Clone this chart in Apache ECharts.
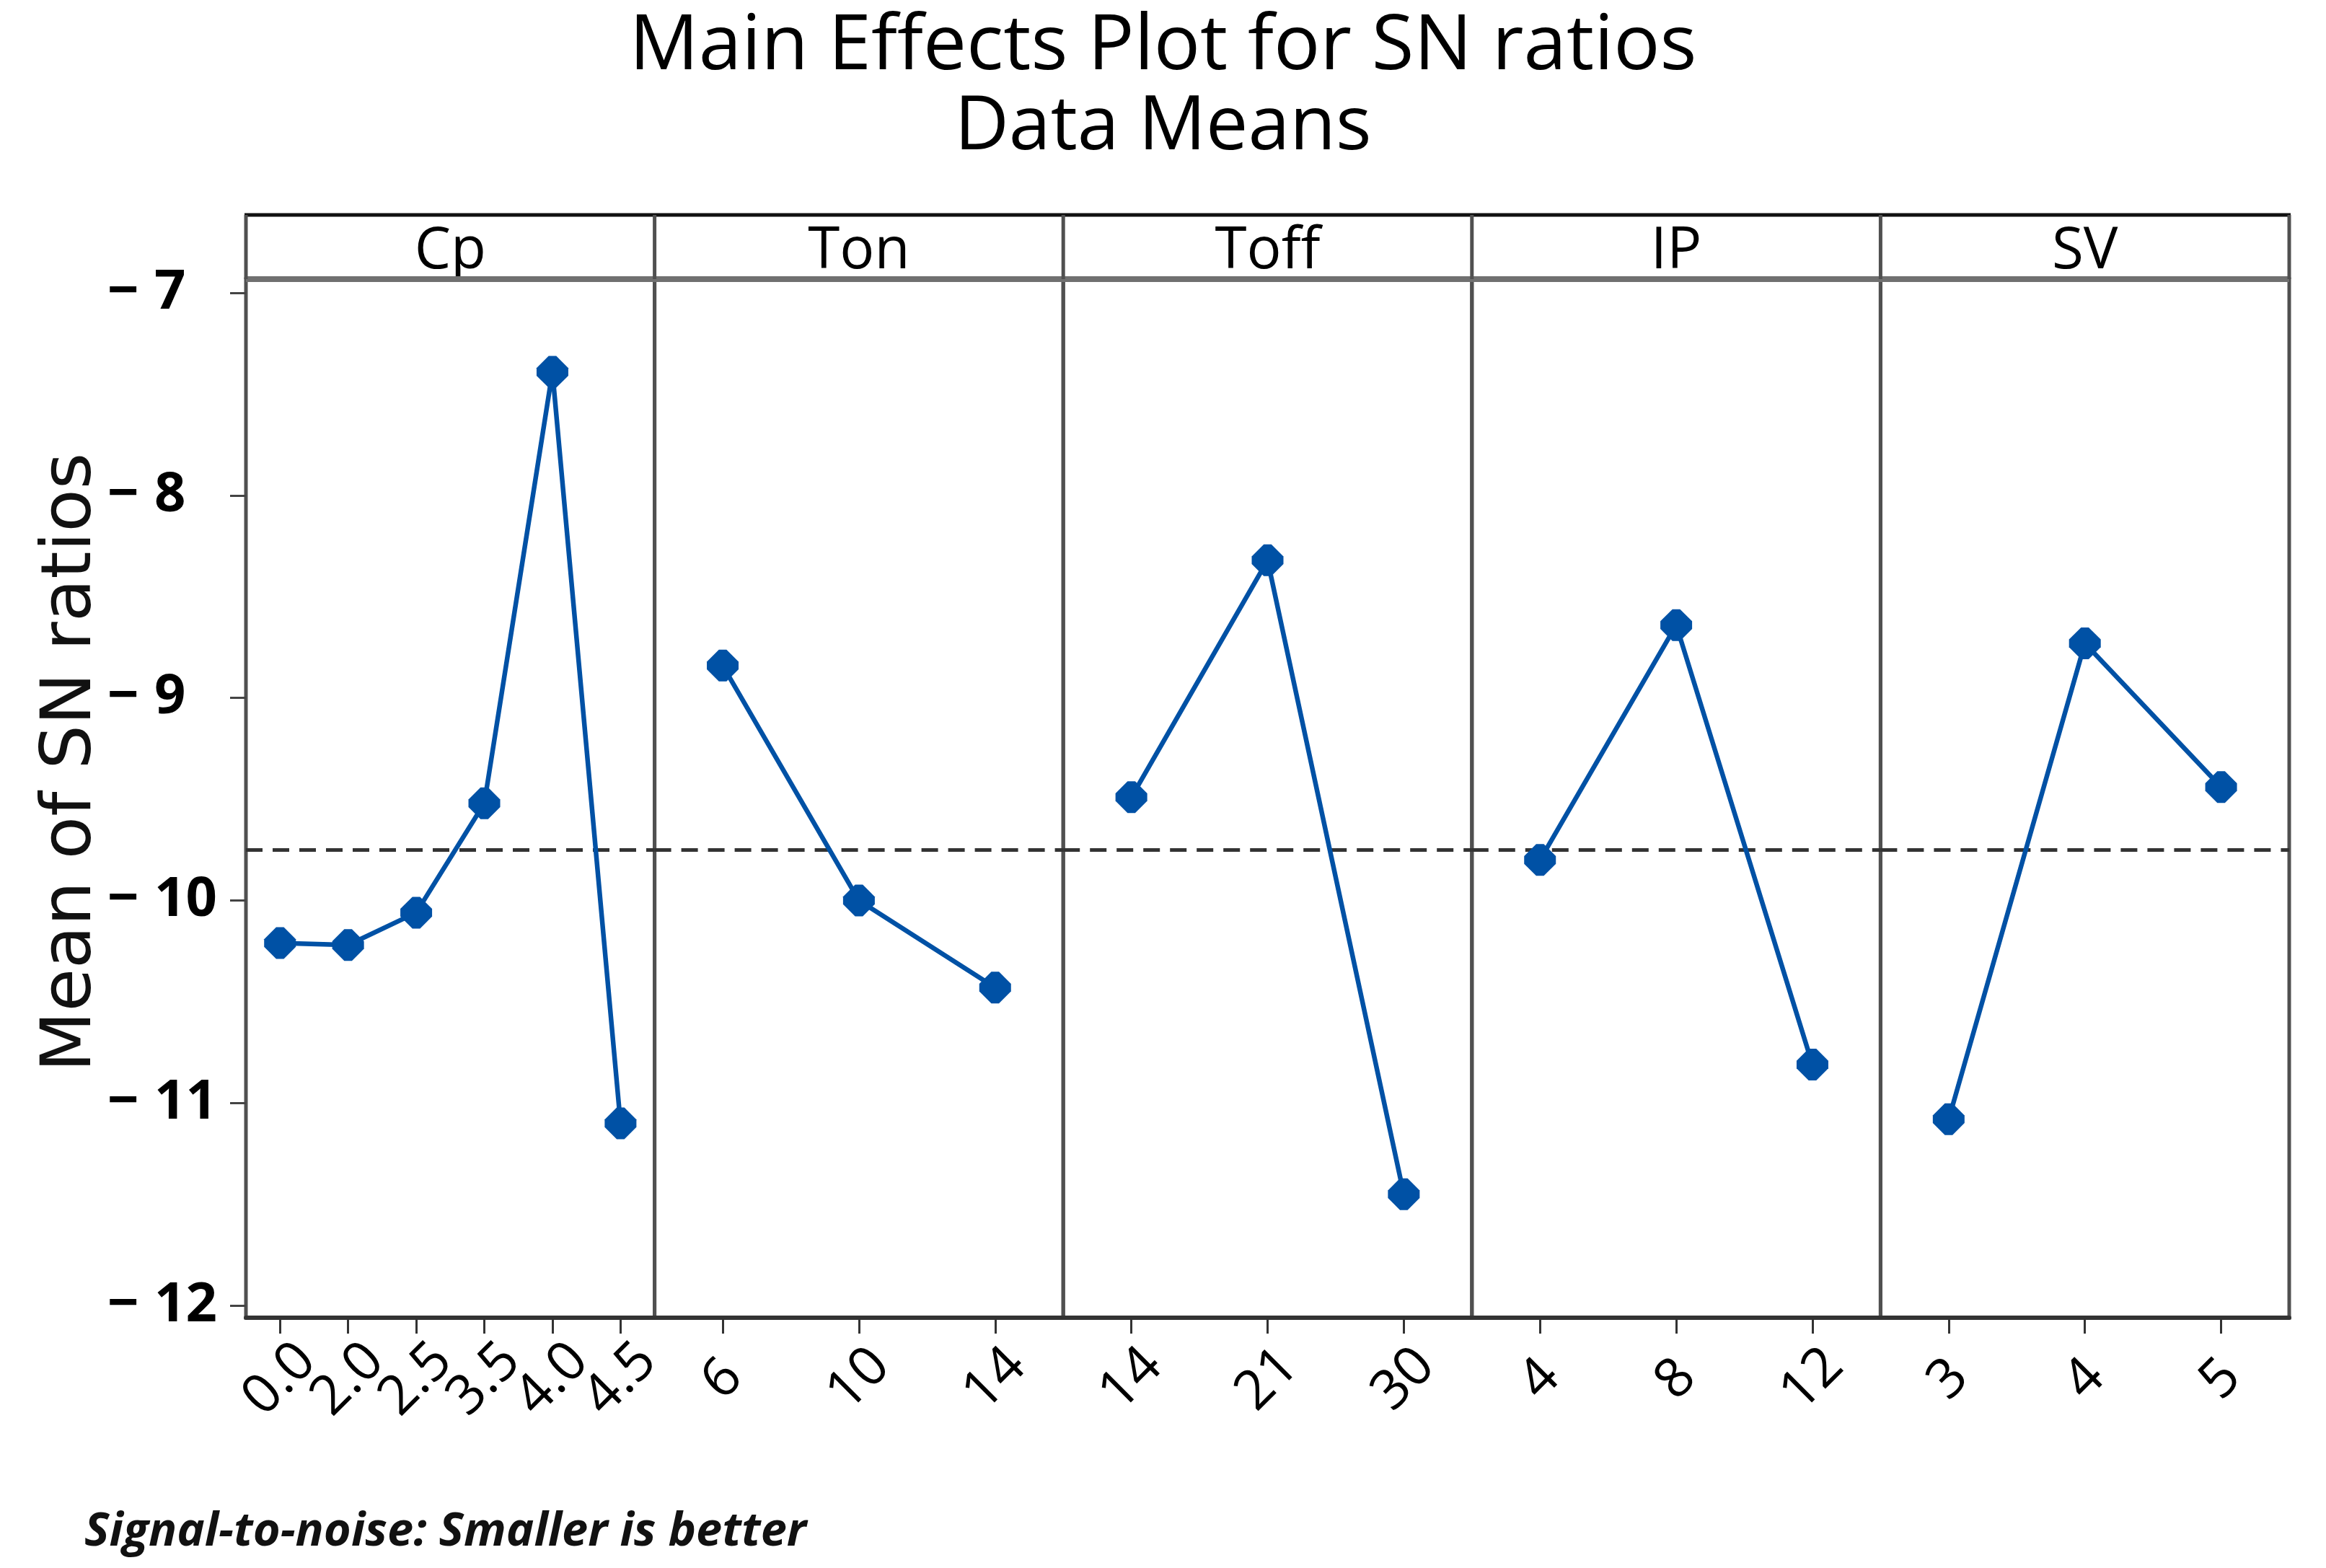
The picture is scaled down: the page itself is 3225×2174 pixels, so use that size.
<!DOCTYPE html>
<html>
<head>
<meta charset="utf-8">
<title>Main Effects Plot for SN ratios</title>
<script src="https://cdn.jsdelivr.net/npm/echarts@6/dist/echarts.min.js"></script>
<style>
  html, body { margin: 0; padding: 0; background: #fff; }
  #chart { width: 3225px; height: 2174px; }
</style>
</head>
<body>
<div id="chart"></div>
<script>
// ---- data ----
const factorNames = ['Cp', 'Ton', 'Toff', 'IP', 'SV'];
const cpLevels = ['0.0', '2.0', '2.5', '3.5', '4.0', '4.5'];
const cpMeans = [-10.21, -10.22, -10.06, -9.52, -7.39, -11.10];
const tonLevels = ['6', '10', '14'];
const tonMeans = [-8.84, -10.00, -10.43];
const toffLevels = ['14', '21', '30'];
const toffMeans = [-9.49, -8.32, -11.45];
const ipLevels = ['4', '8', '12'];
const ipMeans = [-9.80, -8.64, -10.81];
const svLevels = ['3', '4', '5'];
const svMeans = [-11.08, -8.73, -9.44];
const yTicks = [-12, -11, -10, -9, -8, -7];
const meanSN = -9.75;

const levelsList = [cpLevels, tonLevels, toffLevels, ipLevels, svLevels];
const meansList = [cpMeans, tonMeans, toffMeans, ipMeans, svMeans];

// ---- layout ----
const W = 3225, H = 2174;
const plotLeft = 341, plotRight = 3174, plotTop = 387, plotBottom = 1827, headerTop = 298;
const nP = factorNames.length;
const panelW = (plotRight - plotLeft) / nP;
const yMin = -12.06, yMax = -6.932;

const lineColor = '#0051A5';
const diamond = 'path://M38,0 L62,0 L100,38 L100,62 L62,100 L38,100 L0,62 L0,38 Z';

const grids = [], xAxes = [], yAxes = [], series = [], graphics = [];

for (let i = 0; i < nP; i++) {
  const left = plotLeft + i * panelW;
  grids.push({
    left: left, top: plotTop, width: panelW, height: plotBottom - plotTop,
    show: true, borderColor: '#505050', borderWidth: 5, backgroundColor: 'transparent'
  });
  xAxes.push({
    type: 'category', gridIndex: i, data: levelsList[i], boundaryGap: true,
    axisLine: { show: true, lineStyle: { color: '#333', width: 6 } },
    axisTick: { show: true, alignWithLabel: true, length: 22, lineStyle: { color: '#333', width: 3 } },
    axisLabel: {
      interval: 0, rotate: 45, margin: 86, hideOverlap: false,
      align: 'center', verticalAlign: 'middle',
      fontFamily: 'Open Sans', fontSize: 76, color: '#000'
    },
    splitLine: { show: false }
  });
  yAxes.push({
    type: 'value', gridIndex: i, min: yMin, max: yMax,
    axisLine: { show: false },
    axisTick: i === 0 ? { show: true, customValues: yTicks, length: 22, lineStyle: { color: '#444', width: 3 } } : { show: false },
    axisLabel: i === 0 ? {
      show: true, customValues: yTicks, align: 'left', margin: 192,
      formatter: function (v) { return '{m|\u2212}{d|' + Math.abs(Math.round(v)) + '}'; },
      rich: {
        m: { width: 65, fontFamily: 'Open Sans', fontWeight: 'bold', fontSize: 76, color: '#000' },
        d: { fontFamily: 'Open Sans', fontWeight: 'bold', fontSize: 76, color: '#000' }
      }
    } : { show: false },
    splitLine: { show: false }
  });
  series.push({
    type: 'line', name: factorNames[i], xAxisIndex: i, yAxisIndex: i,
    data: meansList[i],
    symbol: diamond, symbolSize: [44, 44],
    lineStyle: { color: lineColor, width: 6.5 },
    itemStyle: { color: lineColor },
    z: 5,
    markLine: {
      silent: true, symbol: 'none', label: { show: false }, animation: false,
      lineStyle: { color: '#333', width: 5, type: [23, 14] },
      data: [{ yAxis: meanSN }]
    }
  });
  // header label
  graphics.push({
    type: 'text', z: 100, x: left + panelW / 2, y: 349,
    style: { text: factorNames[i], align: 'center', verticalAlign: 'middle',
      font: '80px "Open Sans"', fill: '#000' }
  });
}

// header strip lines
graphics.push({ type: 'line', z: 100, shape: { x1: plotLeft - 2, y1: headerTop, x2: plotRight + 2, y2: headerTop },
  style: { stroke: '#111', lineWidth: 5 } });
graphics.push({ type: 'line', z: 100, shape: { x1: plotLeft, y1: plotTop, x2: plotRight, y2: plotTop },
  style: { stroke: '#707070', lineWidth: 8 } });
for (let i = 0; i <= nP; i++) {
  const x = plotLeft + i * panelW;
  graphics.push({ type: 'line', z: 100, shape: { x1: x, y1: headerTop, x2: x, y2: plotTop },
    style: { stroke: '#505050', lineWidth: 5 } });
}
// y axis title
graphics.push({
  type: 'text', x: 100, y: 1057, rotation: Math.PI / 2,
  style: { text: 'Mean of SN ratios', align: 'center', verticalAlign: 'middle',
    font: '97px "DejaVu Sans"', fill: '#111' }
});
// footnote
graphics.push({
  type: 'text', x: 117, y: 2124,
  style: { text: 'Signal-to-noise: Smaller is better', align: 'left', verticalAlign: 'middle',
    font: 'italic bold 65px "Open Sans"', fill: '#111' }
});

const chart = echarts.init(document.getElementById('chart'), null, { renderer: 'canvas', width: W, height: H, devicePixelRatio: 1 });
chart.setOption({
  animation: false,
  backgroundColor: '#fff',
  title: {
    text: 'Main Effects Plot for SN ratios',
    subtext: 'Data Means',
    left: 'center', top: 7, itemGap: 6,
    textStyle: { fontFamily: 'Open Sans', fontWeight: 'normal', fontSize: 107, color: '#000' },
    subtextStyle: { fontFamily: 'Open Sans', fontWeight: 'normal', fontSize: 104, color: '#000' }
  },
  grid: grids,
  xAxis: xAxes,
  yAxis: yAxes,
  series: series,
  graphic: graphics
});
</script>
</body>
</html>
